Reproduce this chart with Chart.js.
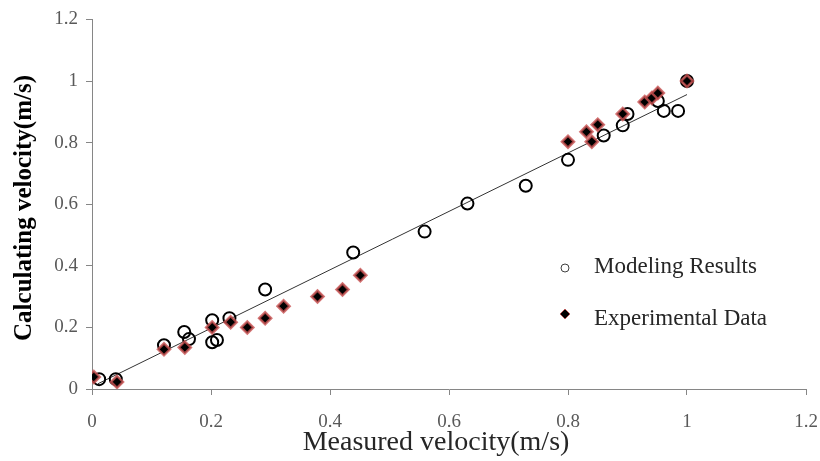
<!DOCTYPE html>
<html>
<head>
<meta charset="utf-8">
<script src="https://cdn.jsdelivr.net/npm/chart.js@4/dist/chart.umd.min.js"></script>
<style>
html,body{margin:0;padding:0;background:#fff;}
#wrap{width:820px;height:461px;}
</style>
</head>
<body>
<div id="wrap"><canvas id="c" width="820" height="461"></canvas></div>
<script>
const modelX = [0.012, 0.04, 0.121, 0.155, 0.163, 0.202, 0.202, 0.210, 0.231, 0.291, 0.439, 0.559, 0.631, 0.729, 0.80, 0.86, 0.892, 0.90, 0.951, 0.961, 0.985, 1.0];
const modelY = [0.032, 0.032, 0.142, 0.185, 0.162, 0.223, 0.152, 0.159, 0.23, 0.323, 0.443, 0.511, 0.602, 0.66, 0.744, 0.823, 0.856, 0.893, 0.935, 0.903, 0.903, 1.0];
const expX = [0.003, 0.042, 0.121, 0.156, 0.202, 0.233, 0.261, 0.291, 0.322, 0.379, 0.421, 0.451, 0.80, 0.831, 0.84, 0.85, 0.892, 0.929, 0.941, 0.951, 1.0];
const expY = [0.039, 0.023, 0.129, 0.135, 0.2, 0.217, 0.2, 0.23, 0.269, 0.30, 0.323, 0.369, 0.803, 0.835, 0.803, 0.858, 0.893, 0.932, 0.945, 0.961, 1.0];
const trendX = [0.01, 1.0];
const trendY = [0.017, 0.956];
const seriesNames = ['Modeling Results', 'Experimental Data'];
const xTitle = 'Measured velocity(m/s)';
const yTitle = 'Calculating velocity(m/s)';

const zip = (xs, ys) => xs.map((x, i) => ({x: x, y: ys[i]}));
const serif = "'Liberation Serif', 'Times New Roman', serif";
const diamondBorder = 'rgba(200,80,80,0.8)';

const labelsPlugin = {
  id: 'customLabels',
  afterDraw(chart) {
    const ctx = chart.ctx;
    ctx.save();
    // legend: circle marker
    ctx.beginPath();
    ctx.arc(565, 268, 4, 0, Math.PI * 2);
    ctx.strokeStyle = '#404040';
    ctx.lineWidth = 1;
    ctx.stroke();
    // legend: diamond marker
    ctx.beginPath();
    ctx.moveTo(565 - 5, 314);
    ctx.lineTo(565, 314 - 5);
    ctx.lineTo(565 + 5, 314);
    ctx.lineTo(565, 314 + 5);
    ctx.closePath();
    ctx.fillStyle = '#000';
    ctx.fill();
    ctx.strokeStyle = diamondBorder;
    ctx.lineWidth = 1;
    ctx.stroke();
    ctx.font = "23px " + serif;
    ctx.fillStyle = '#262626';
    ctx.textAlign = 'left';
    ctx.textBaseline = 'alphabetic';
    ctx.fillText(seriesNames[0], 594, 273);
    ctx.fillText(seriesNames[1], 594, 325);
    // axis titles
    ctx.textAlign = 'center';
    ctx.textBaseline = 'middle';
    ctx.fillStyle = '#262626';
    ctx.font = "28px " + serif;
    ctx.fillText(xTitle, 436, 443);
    ctx.translate(25, 208);
    ctx.rotate(-Math.PI / 2);
    ctx.fillStyle = '#000';
    ctx.font = "bold 25px " + serif;
    ctx.fillText(yTitle, 0, 0);
    ctx.restore();
  }
};

new Chart(document.getElementById('c'), {
  type: 'scatter',
  data: {
    datasets: [
      {
        label: seriesNames[1],
        data: zip(expX, expY),
        pointStyle: 'rectRot',
        pointRadius: 6,
        backgroundColor: '#000',
        borderColor: diamondBorder,
        borderWidth: 2.5
      },
      {
        label: seriesNames[0],
        data: zip(modelX, modelY),
        pointStyle: 'circle',
        pointRadius: 6,
        backgroundColor: 'rgba(0,0,0,0)',
        borderColor: '#000',
        borderWidth: 2
      },
      {
        label: 'Trend',
        type: 'line',
        data: zip(trendX, trendY),
        borderColor: '#333',
        borderWidth: 1,
        pointRadius: 0,
        fill: false
      }
    ]
  },
  options: {
    responsive: false,
    animation: false,
    layout: {padding: {left: 0, right: 14, top: 19, bottom: 0}},
    plugins: {legend: {display: false}, tooltip: {enabled: false}},
    scales: {
      x: {
        type: 'linear',
        min: 0, max: 1.2,
        afterFit(s) { s.height = 72; s.paddingLeft = 0; s.paddingRight = 0; },
        ticks: {
          stepSize: 0.2,
          padding: 16,
          color: '#595959',
          font: {family: serif, size: 19},
          callback: v => String(Number(v.toFixed(1)))
        },
        grid: {drawOnChartArea: false, drawTicks: true, tickLength: 6, color: '#868686'},
        border: {color: '#868686', width: 1},
        title: {display: false}
      },
      y: {
        type: 'linear',
        min: 0, max: 1.2,
        afterFit(s) { s.width = 92; },
        ticks: {
          stepSize: 0.2,
          padding: 8,
          color: '#595959',
          font: {family: serif, size: 19},
          callback: v => String(Number(v.toFixed(1)))
        },
        grid: {drawOnChartArea: false, drawTicks: true, tickLength: 6, color: '#868686'},
        border: {color: '#868686', width: 1},
        title: {display: false}
      }
    }
  },
  plugins: [labelsPlugin]
});
</script>
</body>
</html>
